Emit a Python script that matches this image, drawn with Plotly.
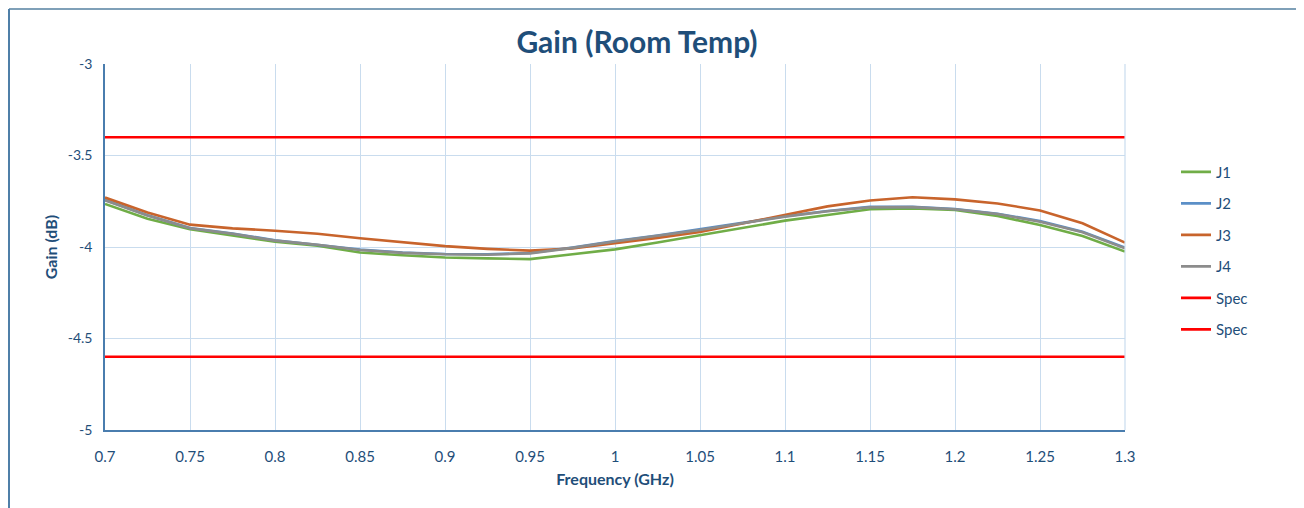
import plotly.graph_objects as go

# ---- data ----
freq = [0.7, 0.725, 0.75, 0.775, 0.8, 0.825, 0.85, 0.875, 0.9, 0.925, 0.95, 0.975,
        1.0, 1.025, 1.05, 1.075, 1.1, 1.125, 1.15, 1.175, 1.2, 1.225, 1.25, 1.275, 1.3]

j1 = [-3.765, -3.845, -3.903, -3.935, -3.971, -3.993, -4.030, -4.045, -4.057, -4.062,
      -4.066, -4.040, -4.013, -3.975, -3.934, -3.895, -3.856, -3.825, -3.794, -3.790,
      -3.798, -3.830, -3.880, -3.940, -4.025]

j2 = [-3.742, -3.826, -3.896, -3.926, -3.963, -3.987, -4.014, -4.030, -4.038, -4.040,
      -4.033, -4.003, -3.968, -3.938, -3.905, -3.868, -3.832, -3.803, -3.781, -3.780,
      -3.792, -3.818, -3.858, -3.916, -4.003]

j3 = [-3.730, -3.812, -3.878, -3.898, -3.911, -3.928, -3.952, -3.975, -3.995, -4.010,
      -4.020, -4.008, -3.980, -3.950, -3.918, -3.872, -3.825, -3.778, -3.746, -3.728,
      -3.740, -3.762, -3.800, -3.870, -3.976]

j4 = [-3.745, -3.828, -3.898, -3.928, -3.965, -3.988, -4.016, -4.032, -4.040, -4.042,
      -4.035, -4.005, -3.970, -3.940, -3.907, -3.870, -3.834, -3.805, -3.783, -3.782,
      -3.794, -3.820, -3.862, -3.920, -4.007]

spec_upper = -3.4
spec_lower = -4.6

x_ticks = [0.7, 0.75, 0.8, 0.85, 0.9, 0.95, 1.0, 1.05, 1.1, 1.15, 1.2, 1.25, 1.3]
x_ticktext = ["0.7", "0.75", "0.8", "0.85", "0.9", "0.95", "1", "1.05", "1.1", "1.15", "1.2", "1.25", "1.3"]
y_ticks = [-5, -4.5, -4, -3.5, -3]
y_ticktext = ["-5", "-4.5", "-4", "-3.5", "-3"]

# ---- styles ----
TXT = "#1F4E79"
FONT = "Lato"
GRID = "#C9DCEE"
AXIS = "#4A7DAE"

W, H = 1296, 500          # page body adds an 8px margin
ML, MR, MT, MB = 97, 179, 56, 78
PW, PH = W - ML - MR, H - MT - MB

fig = go.Figure()
series = [("J1", j1, "#70AD47"), ("J2", j2, "#5B8FC7"), ("J3", j3, "#C8642C"), ("J4", j4, "#8C8C8C")]
for i, (name, ys, col) in enumerate(series):
    fig.add_trace(go.Scatter(x=freq, y=ys, mode="lines", name=name,
                             line=dict(color=col, width=2.6), legendgroup=f"g{i}"))
for i, v in enumerate([spec_upper, spec_lower]):
    fig.add_trace(go.Scatter(x=[freq[0], freq[-1]], y=[v, v], mode="lines", name="Spec",
                             line=dict(color="#FF0000", width=2.6), legendgroup=f"s{i}"))

fig.update_layout(
    width=W, height=H,
    margin=dict(l=ML, r=MR, t=MT, b=MB),
    paper_bgcolor="white", plot_bgcolor="white",
    font=dict(family=FONT, color=TXT, size=15),
    title=dict(text="<b>Gain (Room Temp)</b>", x=629 / W, xanchor="center",
               y=1 - 34 / H, yanchor="middle", font=dict(size=30, color=TXT, family=FONT)),
    showlegend=True,
    legend=dict(x=1.05, xanchor="left", y=0.49, yanchor="middle",
                font=dict(size=15, color=TXT, family=FONT), tracegroupgap=9,
                bgcolor="rgba(0,0,0,0)"),
    xaxis=dict(range=[0.7, 1.3], tickvals=x_ticks, ticktext=x_ticktext,
               showgrid=True, gridcolor=GRID, gridwidth=1.2,
               showline=True, linecolor=AXIS, linewidth=1.5, mirror=False,
               zeroline=False, ticks="", tickfont=dict(size=15, color=TXT),
               ticklabelstandoff=12,
               title=dict(text="<b>Frequency (GHz)</b>", font=dict(size=16, color=TXT), standoff=10)),
    yaxis=dict(range=[-5, -3], tickvals=y_ticks, ticktext=y_ticktext,
               showgrid=True, gridcolor=GRID, gridwidth=1.2,
               showline=True, linecolor=AXIS, linewidth=1.5,
               zeroline=False, ticks="", tickfont=dict(size=14, color=TXT),
               ticklabelstandoff=8,
               title=dict(text="<b>Gain (dB)</b>", font=dict(size=16, color=TXT), standoff=6)),
)

# right-hand grid edge and chart frame (top and left edges)
fig.add_shape(type="line", xref="paper", yref="paper", x0=1, x1=1, y0=0, y1=1,
              line=dict(color=GRID, width=1.2))
top_y = (PH + MT - 1) / PH
left_x = (1 - ML) / PW
fig.add_shape(type="line", xref="paper", yref="paper", x0=left_x, x1=(W - ML) / PW,
              y0=top_y, y1=top_y, line=dict(color="#7FA0B8", width=2))
fig.add_shape(type="line", xref="paper", yref="paper", x0=left_x, x1=left_x,
              y0=top_y, y1=-(MB + 5) / PH, line=dict(color="#4F7FA8", width=2))

fig.write_html("out.html")
